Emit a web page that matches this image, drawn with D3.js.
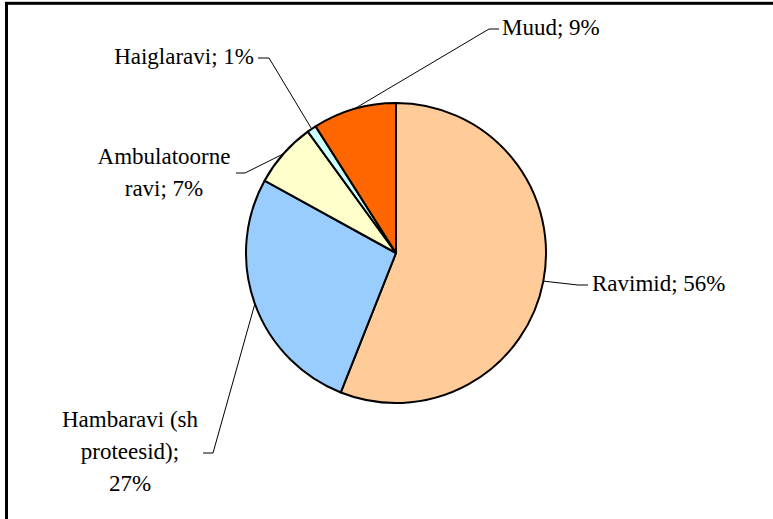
<!DOCTYPE html>
<html>
<head>
<meta charset="utf-8">
<script src="https://cdn.jsdelivr.net/npm/d3@7"></script>
<style>
  body { margin: 0; background: #fff; }
</style>
</head>
<body>
<script>
const w = 773;
const h = 519;

// data
const categories = ["Ravimid", "Hambaravi (sh proteesid)", "Ambulatoorne ravi", "Haiglaravi", "Muud"];
const shares = [56, 27, 7, 1, 9];
const labelLines = [
  ["Ravimid; 56%"],
  ["Hambaravi (sh", "proteesid);", "27%"],
  ["Ambulatoorne", "ravi; 7%"],
  ["Haiglaravi; 1%"],
  ["Muud; 9%"]
];
const colors = ["#FFCC99", "#99CCFF", "#FFFFCC", "#CCFFFF", "#FF6600"];

// label layout: elbow point, line end, text anchor point
const labelLayout = [
  { elbow: [578, 285], end: [588, 285], tx: 592, ty: 291, anchor: "start" },
  { elbow: [213, 453], end: [203, 453], tx: 130, ty: 427, anchor: "middle" },
  { elbow: [245, 173], end: [236, 173], tx: 164, ty: 164, anchor: "middle" },
  { elbow: [269, 58], end: [258, 58], tx: 254, ty: 64, anchor: "end" },
  { elbow: [489, 29], end: [499, 29], tx: 502, ty: 35, anchor: "start" }
];
const lineGap = 32;

const cx = 396, cy = 253, r = 150;

const svg = d3.select("body")
  .append("svg")
  .attr("width", w)
  .attr("height", h);

// frame (only top and left visible)
svg.append("rect")
  .attr("x", 6.5)
  .attr("y", 3.3)
  .attr("width", 1200)
  .attr("height", 1200)
  .attr("fill", "none")
  .attr("stroke", "#000")
  .attr("stroke-width", 3);

const data = categories.map((c, i) => ({ name: c, value: shares[i], i: i }));

const pie = d3.pie()
  .sort(null)
  .value(d => d.value);

const arcs = pie(data);

const arc = d3.arc()
  .innerRadius(0)
  .outerRadius(r);

const g = svg.append("g")
  .attr("transform", `translate(${cx},${cy})`);

g.selectAll("path.slice")
  .data(arcs)
  .enter()
  .append("path")
  .attr("class", "slice")
  .attr("d", arc)
  .attr("fill", d => colors[d.data.i])
  .attr("stroke", "#000")
  .attr("stroke-width", 2)
  .attr("stroke-linejoin", "round");

// leader lines
arcs.forEach(d => {
  const mid = (d.startAngle + d.endAngle) / 2;
  const px = cx + r * Math.sin(mid);
  const py = cy - r * Math.cos(mid);
  const lay = labelLayout[d.data.i];
  svg.append("polyline")
    .attr("points", [[px, py], lay.elbow, lay.end].map(p => p.join(",")).join(" "))
    .attr("fill", "none")
    .attr("stroke", "#000")
    .attr("stroke-width", 1);
});

// labels
labelLines.forEach((lines, i) => {
  const lay = labelLayout[i];
  lines.forEach((ln, k) => {
    svg.append("text")
      .attr("x", lay.tx)
      .attr("y", lay.ty + k * lineGap)
      .attr("style", "font-family: 'Times New Roman'; font-size: 23px;")
      .attr("text-anchor", lay.anchor)
      .text(ln);
  });
});
</script>
</body>
</html>
